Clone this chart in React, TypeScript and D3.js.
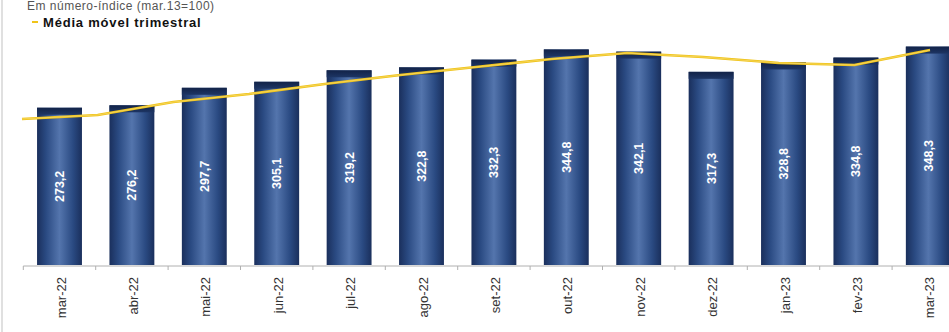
import React from "react";
import * as d3 from "d3";

const months = ["mar-22","abr-22","mai-22","jun-22","jul-22","ago-22","set-22","out-22","nov-22","dez-22","jan-23","fev-23","mar-23"];
const indexValues = [273.2,276.2,297.7,305.1,319.2,322.8,332.3,344.8,342.1,317.3,328.8,334.8,348.3];
const movingAvg = [259.4,264.3,280.2,290.1,302.4,313.4,323.2,333.1,340.4,335.5,328.2,325.7,344.1];
const titleText = "Em número-índice (mar.13=100)";
const legendText = "Média móvel trimestral";

const W = 949, H = 332;

export default function App() {
  const x = d3.scaleBand<string>().domain(months).range([23.3, 964.5]).paddingInner(0.38).paddingOuter(0.19);
  const y = d3.scaleLinear().domain([80, 380]).range([265, 20.8]);
  const xl = d3.scalePoint<string>().domain(months).range([22, 930]);
  const line = d3.line<number>().x((_, i) => xl(months[i]) as number).y(v => y(v)).curve(d3.curveLinear);
  const step = x.step();
  const gap = step - x.bandwidth();
  const ticks = months.map(m => (x(m) as number) - gap / 2).concat([(x(months[months.length - 1]) as number) + x.bandwidth() + gap / 2]);
  const base = y(80);
  const font = "'Liberation Sans', Arial, sans-serif";
  return (
    <svg width={W} height={H} style={{ position: "absolute", left: 0, top: 0, background: "#fff" }} fontFamily={font}>
      <defs>
        <linearGradient id="barG" x1="0" x2="1" y1="0" y2="0">
          <stop offset="0%" stopColor="#1a2f5c" />
          <stop offset="20%" stopColor="#2a4a82" />
          <stop offset="50%" stopColor="#5475ad" />
          <stop offset="80%" stopColor="#2a4a82" />
          <stop offset="100%" stopColor="#1a2f5c" />
        </linearGradient>
        <linearGradient id="capG" x1="0" x2="0" y1="0" y2="1">
          <stop offset="0%" stopColor="#122348" />
          <stop offset="100%" stopColor="#1d3564" />
        </linearGradient>
      </defs>
      <line x1={2} x2={2} y1={0} y2={H} stroke="#d6d6d6" strokeWidth={1.5} />
      <text x={27} y={10} fontSize={12} fill="#555" letterSpacing={0.5}>{titleText}</text>
      <line x1={32} x2={38} y1={22} y2={22} stroke="#f0c419" strokeWidth={2} />
      <text x={43} y={26.5} fontSize={13} fontWeight="bold" fill="#111" letterSpacing={0.8}>{legendText}</text>
      {months.map((m, i) => {
        const bx = x(m) as number;
        const top = y(indexValues[i]);
        const cx = bx + x.bandwidth() / 2;
        return (
          <g key={m}>
            <rect x={bx} y={top} width={x.bandwidth()} height={base - top} fill="url(#barG)" />
            <rect x={bx} y={top} width={x.bandwidth()} height={7} fill="url(#capG)" />
            <text transform={`translate(${cx + 4.5},${(top + base) / 2}) rotate(-90)`} textAnchor="middle" fontSize={12.5} fontWeight="bold" fill="#fff">
              {indexValues[i].toFixed(1).replace(".", ",")}
            </text>
          </g>
        );
      })}
      <line x1={23.3} x2={W} y1={base + 1} y2={base + 1} stroke="#b0b0b0" strokeWidth={1} />
      {ticks.map((t, i) => (
        <line key={i} x1={t} x2={t} y1={base + 1} y2={base + 5} stroke="#b0b0b0" strokeWidth={1} />
      ))}
      {months.map(m => {
        const cx = (x(m) as number) + x.bandwidth() / 2;
        return (
          <text key={m} transform={`translate(${cx + 6},${base + 12}) rotate(-90)`} textAnchor="end" fontSize={13} fill="#333">{m}</text>
        );
      })}
      <path d={line(movingAvg) as string} fill="none" stroke="#f0c419" strokeWidth={2.6} strokeLinejoin="round" />
      <path d={line(movingAvg) as string} fill="none" stroke="#f7e08a" strokeWidth={0.8} strokeLinejoin="round" opacity={0.7} />
    </svg>
  );
}
